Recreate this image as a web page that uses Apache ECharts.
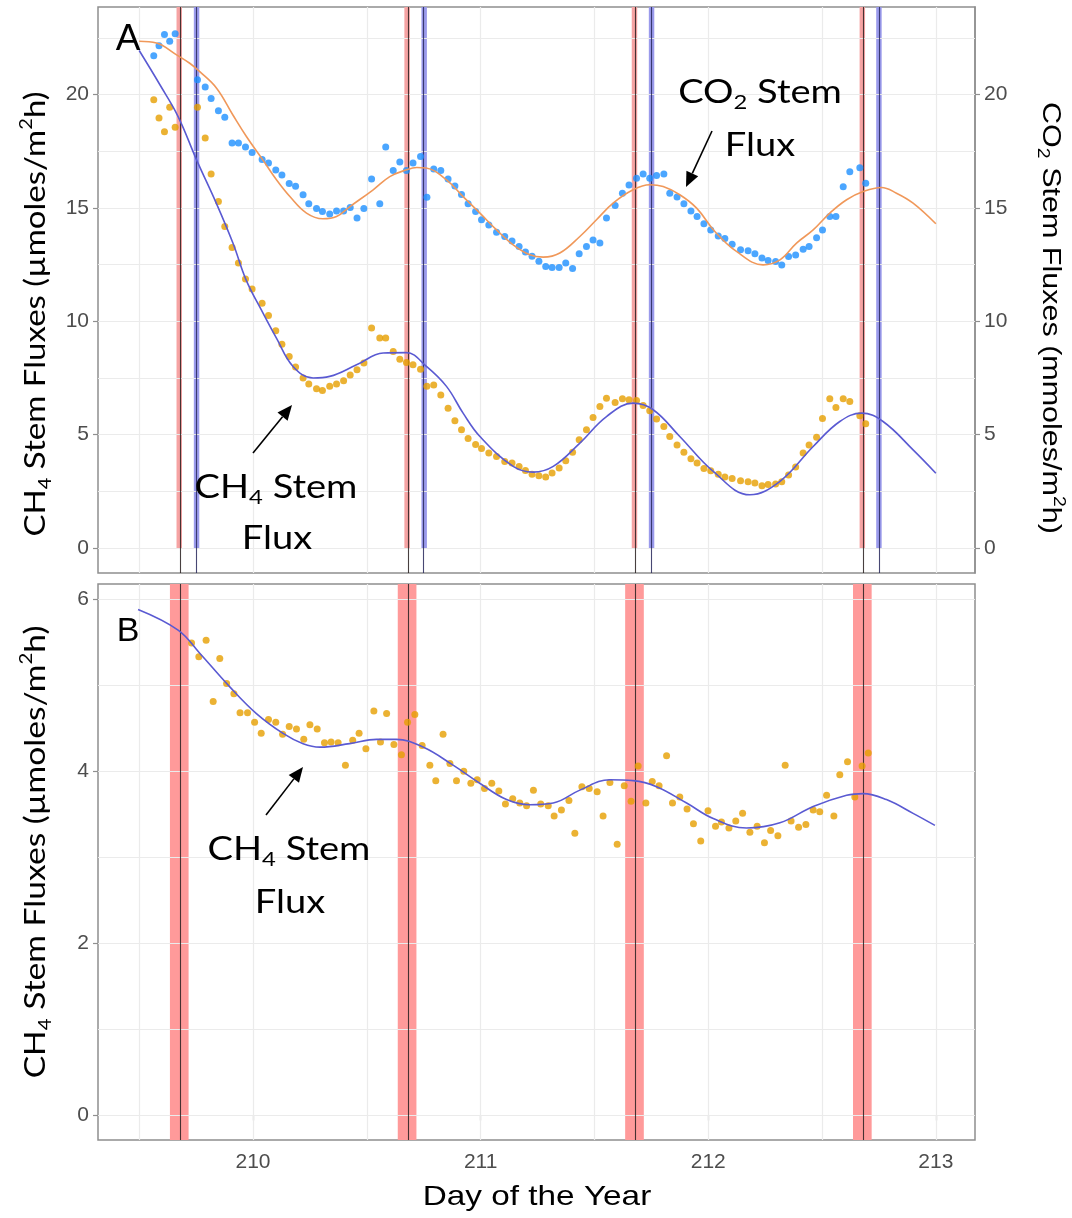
<!DOCTYPE html>
<html><head><meta charset="utf-8">
<script src="https://cdn.jsdelivr.net/npm/echarts@6/dist/echarts.min.js"></script>
<style>html,body{margin:0;padding:0;background:#fff}#c{width:1072px;height:1218px}</style>
</head><body><div id="c"></div>
<script>
// ---------- data (day of year, fluxes) ----------
const topDays = [209.564,209.587,209.611,209.634,209.658,209.756,209.790,209.816,209.848,209.876,
209.908,209.936,209.967,209.996,210.040,210.068,210.100,210.127,210.159,210.187,
210.220,210.245,210.279,210.305,210.337,210.367,210.398,210.427,210.457,210.487,
210.521,210.557,210.583,210.616,210.645,210.674,210.703,210.736,210.764,210.794,
210.825,210.857,210.887,210.916,210.945,210.978,211.004,211.036,211.070,211.106,
211.138,211.169,211.197,211.226,211.256,211.286,211.314,211.345,211.374,211.404,
211.433,211.465,211.494,211.524,211.553,211.591,211.623,211.652,211.685,211.714,
211.743,211.773,211.805,211.831,211.863,211.893,211.924,211.951,211.981,212.011,
212.044,212.073,212.105,212.142,212.175,212.205,212.236,212.263,212.296,212.323,
212.353,212.384,212.417,212.443,212.476,212.502,212.534,212.561,212.593,212.622,
212.666,212.692];
const topCO2 = [21.71,22.15,22.65,22.35,22.68,20.65,20.33,19.82,19.29,19.00,
17.86,17.86,17.69,17.44,17.13,16.98,16.67,16.45,16.08,15.96,
15.58,15.18,14.97,14.84,14.73,14.86,14.86,15.02,14.56,14.97,
16.27,15.18,17.69,16.65,17.03,16.65,16.98,17.27,15.47,16.72,
16.65,16.28,15.97,15.59,15.18,14.84,14.48,14.25,13.93,13.74,
13.54,13.30,13.06,12.87,12.65,12.42,12.37,12.37,12.57,12.33,
12.98,13.30,13.59,13.45,14.55,15.11,15.65,16.01,16.31,16.50,
16.31,16.43,16.50,15.65,15.48,15.18,14.86,14.62,14.30,14.03,
13.76,13.65,13.40,13.15,13.11,12.98,12.79,12.68,12.64,12.48,
12.86,12.92,13.18,13.30,13.68,14.03,14.62,14.62,15.93,16.59,
16.77,16.09];
const topCH4 = [19.77,18.96,18.36,19.44,18.56,19.44,18.08,16.49,15.28,14.18,
13.25,12.57,11.86,11.42,10.80,10.26,9.58,8.99,8.45,7.98,
7.50,7.23,7.02,6.95,7.13,7.23,7.38,7.63,7.86,8.16,
9.70,9.26,9.26,8.67,8.33,8.18,8.08,7.89,7.13,7.19,
6.75,6.16,5.61,5.22,4.83,4.57,4.39,4.19,4.04,3.82,
3.75,3.60,3.42,3.26,3.19,3.13,3.31,3.53,3.85,4.22,
4.78,5.22,5.76,6.24,6.61,6.42,6.58,6.54,6.51,6.29,
6.05,5.69,5.36,4.92,4.55,4.22,3.94,3.75,3.51,3.41,
3.26,3.13,3.07,2.97,2.92,2.87,2.75,2.80,2.82,2.92,
3.22,3.57,4.19,4.55,4.89,5.71,6.58,6.20,6.58,6.46,
5.83,5.48];
const co2FitDays = [209.500,209.576,209.664,209.722,209.766,209.840,209.911,209.971,210.043,210.103,
210.162,210.235,210.307,210.367,210.426,210.528,210.601,210.674,210.720,210.760,
210.850,210.923,210.997,211.070,211.143,211.216,211.275,211.348,211.436,211.509,
211.582,211.670,211.743,211.802,211.875,211.949,212.030,212.124,212.241,212.315,
212.388,212.461,212.534,212.608,212.681,212.761,212.827,212.900,213.000];
const co2FitVals = [22.35,22.27,21.75,21.38,21.01,20.28,19.11,18.15,17.12,16.24,
15.50,14.77,14.52,14.62,15.06,15.80,16.38,16.68,16.78,16.76,
16.24,15.50,14.77,14.03,13.37,12.93,12.83,13.01,13.74,14.48,
15.21,15.80,16.02,15.94,15.58,14.99,13.95,13.08,12.49,12.71,
13.45,14.03,14.77,15.36,15.72,15.90,15.65,15.21,14.30];
const ch4FitDays = [209.500,209.591,209.671,209.752,209.840,209.913,209.969,210.044,210.103,210.176,
210.264,210.337,210.455,210.572,210.674,210.762,210.850,210.923,210.997,211.143,
211.231,211.319,211.436,211.553,211.670,211.758,211.875,212.022,212.183,212.315,
212.461,212.578,212.674,212.768,212.900,213.000];
const ch4FitVals = [21.94,20.43,19.03,17.12,15.18,13.42,11.84,10.36,9.26,8.01,
7.50,7.57,8.08,8.60,8.62,8.01,7.13,5.95,4.92,3.60,
3.35,3.60,4.63,5.80,6.39,6.10,4.92,3.38,2.35,2.94,
4.48,5.58,5.95,5.58,4.33,3.30];
const botDays = [209.730,209.762,209.794,209.825,209.854,209.884,209.916,209.943,209.976,210.007,
210.036,210.068,210.100,210.130,210.159,210.191,210.223,210.250,210.282,210.314,
210.343,210.374,210.406,210.438,210.466,210.496,210.531,210.560,210.587,210.619,
210.652,210.679,210.711,210.743,210.777,210.803,210.835,210.865,210.894,210.926,
210.957,210.985,211.017,211.049,211.080,211.109,211.141,211.172,211.202,211.232,
211.264,211.297,211.323,211.355,211.388,211.414,211.445,211.477,211.512,211.538,
211.568,211.600,211.631,211.661,211.692,211.726,211.754,211.784,211.817,211.843,
211.875,211.907,211.935,211.967,211.999,212.032,212.058,212.091,212.121,212.151,
212.183,212.215,212.247,212.274,212.306,212.338,212.364,212.397,212.429,212.461,
212.490,212.520,212.552,212.578,212.612,212.644,212.676,212.703];
const botCH4 = [5.49,5.33,5.52,4.81,5.31,5.02,4.90,4.68,4.68,4.57,
4.44,4.60,4.57,4.43,4.52,4.49,4.37,4.54,4.49,4.33,
4.34,4.33,4.07,4.36,4.44,4.26,4.70,4.34,4.67,4.31,
4.19,4.57,4.66,4.30,4.07,3.89,4.43,4.09,3.89,4.00,
3.86,3.90,3.80,3.86,3.77,3.62,3.68,3.63,3.60,3.78,
3.62,3.60,3.48,3.55,3.66,3.28,3.82,3.80,3.76,3.48,
3.87,3.15,3.83,3.65,4.06,3.63,3.88,3.83,4.18,3.63,
3.70,3.56,3.39,3.19,3.54,3.36,3.41,3.34,3.42,3.51,
3.29,3.36,3.17,3.31,3.25,4.07,3.42,3.35,3.38,3.55,
3.53,3.72,3.48,3.96,4.11,3.70,4.06,4.21];
const botFitDays = [209.495,209.671,209.766,209.898,210.015,210.132,210.220,210.294,210.425,210.543,
210.630,210.747,210.879,210.996,211.114,211.216,211.319,211.436,211.568,211.670,
211.773,211.905,212.022,212.168,212.315,212.461,212.608,212.681,212.783,212.900,212.996];
const botFitVals = [5.88,5.64,5.37,4.98,4.67,4.44,4.32,4.28,4.32,4.37,
4.37,4.28,4.07,3.86,3.67,3.61,3.63,3.78,3.90,3.89,
3.82,3.63,3.45,3.34,3.40,3.59,3.72,3.74,3.67,3.51,3.37];
const redLines = [209.676,210.677,211.676,212.677];
const blueLines = [209.752,210.752,211.751,212.750];
const topYTicks = [0,5,10,15,20];
const topYGrid = [0,2.5,5,7.5,10,12.5,15,17.5,20,22.5];
const botYTicks = [0,2,4,6];
const botYGrid = [0,1,2,3,4,5,6];
const xTicks = [210,211,212,213];
const xGrid = [209.5,210,210.5,211,211.5,212,212.5,213];

// ---------- chart ----------
const chart = echarts.init(document.getElementById('c'), null, {renderer:'canvas'});
const pair = (xs, ys) => xs.map((x,i)=>[x, ys[i]]);
const X0 = 209.319, X1 = 213.172;
const T0 = -1.10, T1 = 23.86, B0 = -0.285, B1 = 6.175;
const tickFont = 'Liberation Sans, Arial, sans-serif';
const gridLineStyle = {color:'#ebebeb', width:1.2, type:'solid'};
const borderC = '#8f8f8f';
const tickSize = 21;

function yAx(gi, min, max, ticks, pos, showLine){
  return {gridIndex:gi, type:'value', min, max, position:pos,
    axisLine:{show:showLine, lineStyle:{color:borderC, width:1.5}},
    splitLine:{show:false},
    axisTick:{show:true, customValues:ticks, length:5, lineStyle:{color:borderC, width:1.2}},
    axisLabel:{customValues:ticks, color:'#4d4d4d', fontSize:tickSize, fontFamily:tickFont, margin:9}};
}

function gridHelper(xi, yi, yGrid){
  return {type:'line', xAxisIndex:xi, yAxisIndex:yi, data:[], z:1, silent:true,
    markLine:{silent:true, symbol:['none','none'], label:{show:false}, animation:false,
      lineStyle:gridLineStyle, emphasis:{disabled:true},
      data: yGrid.map(v=>({yAxis:v})).concat(xGrid.map(v=>({xAxis:v})))}};
}

function bands(xi, yi, lines, halfW, yLo, yHi, color){
  return {type:'line', xAxisIndex:xi, yAxisIndex:yi, data:[], z:2, silent:true,
    markArea:{silent:true, animation:false, itemStyle:{color}, emphasis:{disabled:true},
      data: lines.map(v=>[{xAxis:v-halfW, yAxis:yLo},{xAxis:v+halfW, yAxis:yHi}])}};
}

function vlines(xi, yi, lines, color){
  return {type:'line', xAxisIndex:xi, yAxisIndex:yi, data:[], z:3, silent:true,
    markLine:{silent:true, symbol:['none','none'], label:{show:false}, animation:false,
      lineStyle:{color, width:1.1, type:'solid'}, emphasis:{disabled:true},
      data: lines.map(v=>({xAxis:v}))}};
}

function richText(x, y, text, o){
  return {type:'text', x, y, rotation:o.rot||0, scaleX:o.sx||1, scaleY:o.sy||1, silent:true, z:100,
    style:{text, align:'center', verticalAlign:'middle', fill:'#000',
      fontSize:o.fs, fontFamily:o.ff, lineHeight:o.lh,
      rich:{
        n:{fontSize:o.fs, fontFamily:o.ff, lineHeight:o.lh, fill:'#000'},
        sub:{fontSize:Math.round(o.fs*0.62), fontFamily:o.ff, lineHeight:o.subLH, verticalAlign:'bottom', fill:'#000'},
        sup:{fontSize:Math.round(o.fs*0.62), fontFamily:o.ff, lineHeight:o.supLH, verticalAlign:'top', fill:'#000'}
      }}};
}

function arrow(x1,y1,x2,y2){
  const a = Math.atan2(y2-y1, x2-x1), L = 15, W = 6.5;
  const bx = x2 - L*Math.cos(a), by = y2 - L*Math.sin(a);
  return [
    {type:'line', silent:true, z:100, shape:{x1, y1, x2:bx, y2:by}, style:{stroke:'#000', lineWidth:1.6}},
    {type:'polygon', silent:true, z:100, shape:{points:[[x2,y2],[bx+W*Math.sin(a), by-W*Math.cos(a)],[bx-W*Math.sin(a), by+W*Math.cos(a)]]}, style:{fill:'#000'}}
  ];
}

const annFont = 'Lato, "Open Sans", sans-serif';
const ann = {fs:32, ff:annFont, lh:40, subLH:22, supLH:26, sx:1.19};

const graphics = [
  {type:'text', x:128, y:40, silent:true, z:100, style:{text:'A', fontSize:37, fontFamily:tickFont, fill:'#000', align:'center', verticalAlign:'middle'}},
  {type:'text', x:128, y:632, silent:true, z:100, style:{text:'B', fontSize:34, fontFamily:tickFont, fill:'#000', align:'center', verticalAlign:'middle'}},
  richText(760, 93, '{n|CO}{sub|2}{n| Stem}', ann),
  richText(760, 146, '{n|Flux}', ann),
  richText(276, 488, '{n|CH}{sub|4}{n| Stem}', ann),
  richText(277, 539, '{n|Flux}', ann),
  richText(289, 850, '{n|CH}{sub|4}{n| Stem}', ann),
  richText(290, 903, '{n|Flux}', ann),
  ...arrow(712, 131, 686, 187),
  ...arrow(253, 453, 292, 405),
  ...arrow(266, 815, 303, 767),
  richText(36, 314, '{n|CH}{sub|4}{n| Stem Fluxes (µmoles/m}{sup|2}{n|h)}', {fs:28, ff:annFont, lh:36, subLH:20, supLH:22, rot:Math.PI/2, sx:1.18}),
  richText(36, 852, '{n|CH}{sub|4}{n| Stem Fluxes (µmoles/m}{sup|2}{n|h)}', {fs:28, ff:annFont, lh:36, subLH:20, supLH:22, rot:Math.PI/2, sx:1.2}),
  richText(1050, 318, '{n|CO}{sub|2}{n| Stem Fluxes (mmoles/m}{sup|2}{n|h)}', {fs:25, ff:tickFont, lh:32, subLH:18, supLH:20, rot:-Math.PI/2, sx:1.22}),
  {type:'text', x:537, y:1197, scaleX:1.19, silent:true, z:100, style:{text:'Day of the Year', fontSize:28, fontFamily:tickFont, fill:'#000', align:'center', verticalAlign:'middle'}}
];

const option = {
  animation:false,
  backgroundColor:'#fff',
  grid:[
    {left:98, top:7, width:877, height:566, show:true, borderColor:borderC, borderWidth:1.5, backgroundColor:'#fff'},
    {left:98, top:584, width:877, height:556, show:true, borderColor:borderC, borderWidth:1.5, backgroundColor:'#fff'}
  ],
  xAxis:[
    {gridIndex:0, type:'value', min:X0, max:X1, axisLine:{show:false}, axisTick:{show:false}, axisLabel:{show:false}, splitLine:{show:false}},
    {gridIndex:1, type:'value', min:X0, max:X1, axisLine:{show:false}, splitLine:{show:false},
      axisTick:{show:true, customValues:xTicks, length:5, lineStyle:{color:borderC, width:1.2}},
      axisLabel:{customValues:xTicks, color:'#4d4d4d', fontSize:tickSize, fontFamily:tickFont, margin:12}}
  ],
  yAxis:[
    yAx(0, T0, T1, topYTicks, 'left', false),
    yAx(0, T0, T1, topYTicks, 'right', true),
    yAx(1, B0, B1, botYTicks, 'left', false)
  ],
  series:[
    gridHelper(0, 0, topYGrid),
    gridHelper(1, 2, botYGrid),
    bands(0, 0, redLines, 0.012, 0, T1, '#f6a3a3'),
    bands(0, 0, blueLines, 0.012, 0, T1, '#9a9aec'),
    bands(1, 2, redLines, 0.041, B0, B1, '#ff9a9a'),
    vlines(0, 0, redLines, 'rgba(40,30,30,0.85)'),
    vlines(0, 0, blueLines, 'rgba(40,40,90,0.85)'),
    vlines(1, 2, redLines, 'rgba(40,30,30,0.85)'),
    {name:'CO2', type:'scatter', xAxisIndex:0, yAxisIndex:1, data:pair(topDays, topCO2), symbolSize:7, itemStyle:{color:'#1e90ff'}, z:5, silent:true},
    {name:'CH4', type:'scatter', xAxisIndex:0, yAxisIndex:0, data:pair(topDays, topCH4), symbolSize:7, itemStyle:{color:'#e69f00'}, z:5, silent:true},
    {name:'CO2 fit', type:'line', xAxisIndex:0, yAxisIndex:1, data:pair(co2FitDays, co2FitVals), smooth:0.4, showSymbol:false, lineStyle:{color:'#f0985a', width:1.6}, z:6, silent:true},
    {name:'CH4 fit', type:'line', xAxisIndex:0, yAxisIndex:0, data:pair(ch4FitDays, ch4FitVals), smooth:0.4, showSymbol:false, lineStyle:{color:'#5a5ad2', width:1.6}, z:6, silent:true},
    {name:'CH4 B', type:'scatter', xAxisIndex:1, yAxisIndex:2, data:pair(botDays, botCH4), symbolSize:7, itemStyle:{color:'#e69f00'}, z:5, silent:true},
    {name:'CH4 B fit', type:'line', xAxisIndex:1, yAxisIndex:2, data:pair(botFitDays, botFitVals), smooth:0.4, showSymbol:false, lineStyle:{color:'#5a5ad2', width:1.6}, z:6, silent:true}
  ],
  graphic: graphics
};
chart.setOption(option);
</script>
</body></html>
